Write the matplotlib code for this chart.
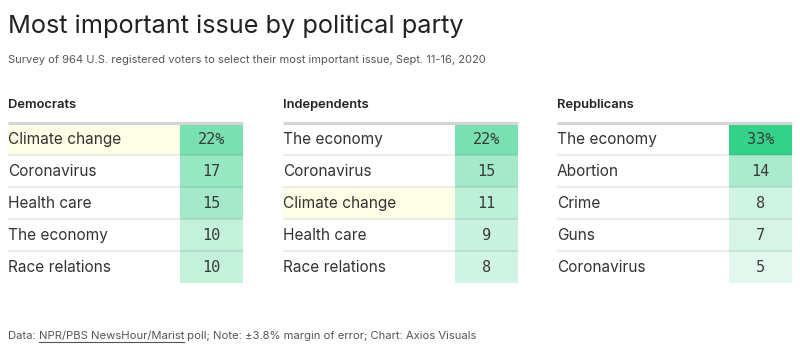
import matplotlib.pyplot as plt
from matplotlib.patches import Rectangle
from matplotlib.colors import LinearSegmentedColormap, Normalize

# -------- Data --------
parties = ["Democrats", "Independents", "Republicans"]
dem_issues = ["Climate change", "Coronavirus", "Health care", "The economy", "Race relations"]
dem_values = [22, 17, 15, 10, 10]
ind_issues = ["The economy", "Coronavirus", "Climate change", "Health care", "Race relations"]
ind_values = [22, 15, 11, 9, 8]
rep_issues = ["The economy", "Abortion", "Crime", "Guns", "Coronavirus"]
rep_values = [33, 14, 8, 7, 5]
highlight = "Climate change"

title = "Most important issue by political party"
subtitle = "Survey of 964 U.S. registered voters to select their most important issue, Sept. 11-16, 2020"

tables = [(dem_issues, dem_values), (ind_issues, ind_values), (rep_issues, rep_values)]

# -------- Styling --------
W, H = 800, 353
sans = ["Inter", "DejaVu Sans"]
mono = "DejaVu Sans Mono"
cmap = LinearSegmentedColormap.from_list("axgreen", ["#e2f8ee", "#33d18a"])
norm = Normalize(5, 33)

fig = plt.figure(figsize=(W / 100, H / 100), dpi=100)
ax = fig.add_axes([0, 0, 1, 1])
ax.set_xlim(0, W)
ax.set_ylim(H, 0)
ax.axis("off")

ax.text(8, 26, title, fontsize=18.2, color="#222222", family=sans, va="center")
ax.text(8, 60, subtitle, fontsize=8.0, color="#555555", family=sans, va="center")

x_starts = [8, 283, 557]
table_w = 235
label_w = 172
top = 123
row_h = 32

for party, x0, (issues, values) in zip(parties, x_starts, tables):
    ax.text(x0, 105, party, fontsize=9.3, color="#222222", family=sans,
            weight="semibold", va="center")
    for i, (issue, val) in enumerate(zip(issues, values)):
        y = top + i * row_h
        if issue == highlight:
            ax.add_patch(Rectangle((x0, y), label_w, row_h, color="#fefde6", lw=0))
        ax.add_patch(Rectangle((x0 + label_w, y), table_w - label_w, row_h,
                               color=cmap(norm(val)), lw=0))
        ax.text(x0, y + row_h / 2 + 0.5, issue, fontsize=11.1, color="#333333",
                family=sans, va="center")
        txt = f"{val}%" if i == 0 else str(val)
        ax.text(x0 + label_w + (table_w - label_w) / 2, y + row_h / 2 + 0.5, txt,
                fontsize=11, color="#3a3a3a", family=mono, va="center", ha="center")
        if i > 0:
            ax.plot([x0, x0 + table_w], [y, y], color="#000000", alpha=0.07, lw=1.5,
                    solid_capstyle="butt")
    ax.plot([x0, x0 + table_w], [top, top], color="#d4d4d4", lw=2.2,
            solid_capstyle="butt")

# -------- Footer with underlined source --------
fig.canvas.draw()
r = fig.canvas.get_renderer()
fy = 336
parts = ["Data: ", "NPR/PBS NewsHour/Marist", " poll; Note: ±3.8% margin of error; Chart: Axios Visuals"]
x = 8
inv = ax.transData.inverted()
for j, p in enumerate(parts):
    t = ax.text(x, fy, p, fontsize=8.1, color="#555555", family=sans, va="center")
    bb = t.get_window_extent(r)
    (x1, y1), (x2, y2) = inv.transform([[bb.x0, bb.y0], [bb.x1, bb.y1]])
    if j == 1:
        ax.plot([x1, x2], [fy + 6, fy + 6], color="#555555", lw=0.8)
    x = x2

plt.savefig("out.png", dpi=100)
